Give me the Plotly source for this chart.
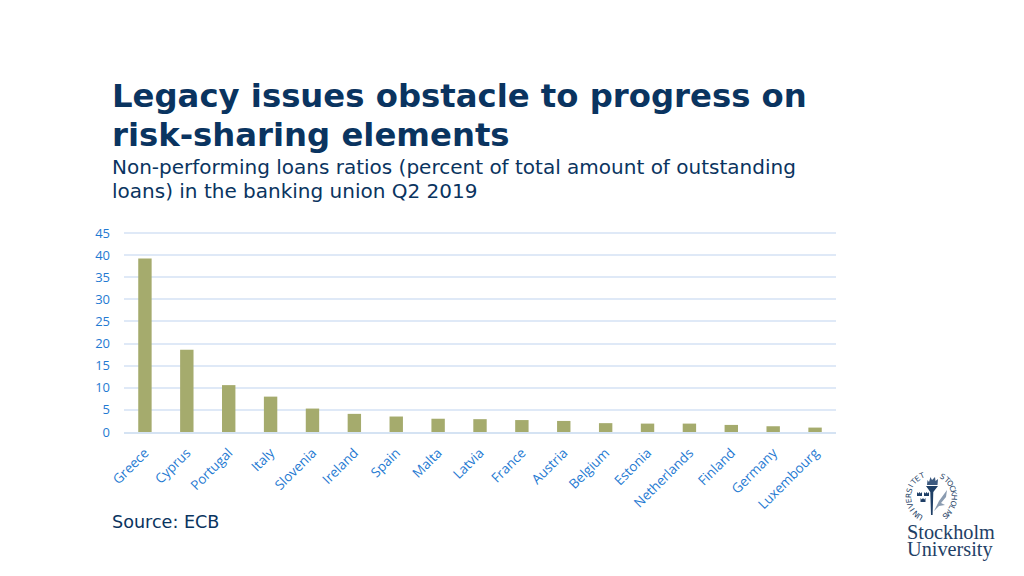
import math
import plotly.graph_objects as go

countries = ["Greece", "Cyprus", "Portugal", "Italy", "Slovenia", "Ireland", "Spain", "Malta", "Latvia",
             "France", "Austria", "Belgium", "Estonia", "Netherlands", "Finland", "Germany", "Luxembourg"]
npl_ratio = [39.2, 18.6, 10.6, 8.0, 5.3, 4.1, 3.5, 3.0, 2.9, 2.7, 2.5, 2.0, 1.9, 1.9, 1.6, 1.3, 1.0]
y_ticks = [0, 5, 10, 15, 20, 25, 30, 35, 40, 45]

# The page body has an 8 px margin, so the figure is 8 px smaller on each side
OFF = 8
W, H = 1024 - 2 * OFF, 576 - 2 * OFF
NAVY = "#0a3460"
BLUE = "#1f7ad2"
LOGO = "#1f3f66"

fig = go.Figure(go.Bar(x=countries, y=npl_ratio, marker=dict(color="#a5ab6d", line=dict(width=0)), width=0.32))

def px(x): return (x - OFF) / W
def py(y): return 1 - (y - OFF) / H

def note(x, y, text, size, color=NAVY, family="DejaVu Sans", anchor="left", angle=0):
    fig.add_annotation(xref="paper", yref="paper", x=px(x), y=py(y), text=text, showarrow=False,
                       xanchor=anchor, yanchor="middle", textangle=angle, align="left",
                       borderpad=0, borderwidth=0,
                       font=dict(size=size, color=color, family=family))

note(112, 96, "<b>Legacy issues obstacle to progress on</b>", 32.3)
note(112, 135, "<b>risk-sharing elements</b>", 32.3)
note(112, 167, "Non-performing loans ratios (percent of total amount of outstanding", 20)
note(112, 191, "loans) in the banking union Q2 2019", 20)
note(112, 522, "Source: ECB", 17.6)

# Stockholm University wordmark
note(907, 532, "Stockholm", 20.3, LOGO, "Liberation Serif")
note(907, 549, "University", 20.3, LOGO, "Liberation Serif")

# Seal: circular lettering round a torch
cx, cy, r = 931.5, 497, 23
left_word = "UNIVERSITET"
right_word = "STOCKHOLMS"
for i, ch in enumerate(left_word):
    a = math.radians(-148 + i * 12.4)
    note(cx + r * math.sin(a), cy - r * math.cos(a), ch, 7.5, LOGO, "DejaVu Sans", "center", math.degrees(a))
for i, ch in enumerate(right_word):
    a = math.radians(28 + i * 13)
    note(cx + r * math.sin(a), cy - r * math.cos(a), ch, 7.5, LOGO, "DejaVu Sans", "center", math.degrees(a))

def poly(points, color=LOGO):
    path = "M " + " L ".join(f"{px(x)} {py(y)}" for x, y in points) + " Z"
    fig.add_shape(type="path", xref="paper", yref="paper", path=path,
                  fillcolor=color, line=dict(width=0), layer="above")

# torch stem and cup
poly([(926, 486), (938, 486), (933.3, 492), (932.6, 515), (931, 515), (930.3, 492)])
# flame
poly([(927, 485), (927.5, 480), (929, 482), (930.5, 477), (932, 480), (935, 477), (935.5, 481), (938, 479), (937.5, 485)], "#3d5a80")
# three crowns
for bx, by in [(917, 492), (924, 492), (920.5, 498)]:
    poly([(bx, by), (bx + 1.3, by + 1.5), (bx + 2.5, by), (bx + 3.7, by + 1.5), (bx + 5, by), (bx + 5, by + 4), (bx, by + 4)])
# olive branch
poly([(934, 511), (939, 501), (947, 490), (946, 497), (941, 503), (945, 505), (939, 506)], "#8a9bb0")

fig.update_layout(
    width=W, height=H, autosize=False,
    paper_bgcolor="white", plot_bgcolor="white", showlegend=False,
    margin=dict(l=0, r=0, t=0, b=0),
    font=dict(family="Open Sans", color=BLUE),
    xaxis=dict(type="category", categoryorder="array", categoryarray=countries, range=[-0.5, 16.5],
               domain=[px(124), px(836)], automargin=False,
               tickangle=-45, tickfont=dict(size=13.4, color=BLUE, family="Open Sans"), ticklabelstandoff=6,
               showline=True, linecolor="#d5e3f3", linewidth=1.5, showgrid=False, ticks="", ticklen=0),
    yaxis=dict(range=[0, 45.4], tickvals=y_ticks, tickfont=dict(size=13, color=BLUE, family="Open Sans"),
               ticklabelstandoff=13,
               domain=[py(432), py(231.2)], automargin=False,
               gridcolor="#dfe9f7", gridwidth=1.5, zeroline=False, showline=False, ticks=""),
)
fig.write_html("out.html")
